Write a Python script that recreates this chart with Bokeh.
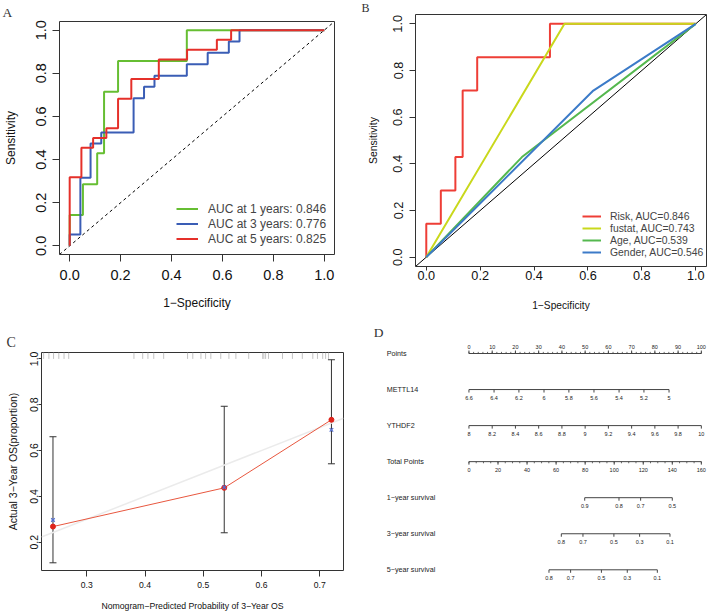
from bokeh.plotting import figure
from bokeh.models import (Range1d, FixedTicker, NumeralTickFormatter, Legend, LegendItem,
                          Label, ColumnDataSource, Whisker, TeeHead)
from bokeh.layouts import column, row
from bokeh.embed import file_html
from bokeh.resources import INLINE
from bokeh.core.properties import value

SANS = "Liberation Sans"
SERIF = "Liberation Serif"

# ---------------- Panel A: time-dependent ROC ----------------
a_fpr_1y = [0.0, 0.0, 0.052, 0.108, 0.135, 0.190, 0.460, 1.0]
a_tpr_1y = [0.0, 0.143, 0.286, 0.429, 0.714, 0.857, 1.0, 1.0]
a_fpr_3y = [0.0, 0.0, 0.042, 0.082, 0.124, 0.251, 0.292, 0.333, 0.460, 0.542, 0.625, 0.667, 1.0]
a_tpr_3y = [0.0, 0.053, 0.316, 0.474, 0.526, 0.684, 0.737, 0.789, 0.842, 0.895, 0.947, 1.0, 1.0]
a_fpr_5y = [0.0, 0.0, 0.046, 0.092, 0.144, 0.190, 0.242, 0.350, 0.461, 0.578, 0.634, 1.0]
a_tpr_5y = [0.0, 0.318, 0.455, 0.500, 0.545, 0.682, 0.773, 0.864, 0.909, 0.955, 1.0, 1.0]
a_labels = ["AUC at 1 years: 0.846", "AUC at 3 years: 0.776", "AUC at 5 years: 0.825"]
a_colors = ["#66BE32", "#3A5DB5", "#E5302A"]

# ---------------- Panel B: ROC of variables ----------------
b_risk_fpr = [0.0, 0.0, 0.054, 0.108, 0.135, 0.189, 0.459, 1.0]
b_risk_tpr = [0.0, 0.143, 0.286, 0.429, 0.714, 0.857, 1.0, 1.0]
b_fustat_fpr = [0.0, 0.513, 1.0]
b_fustat_tpr = [0.0, 1.0, 1.0]
b_age_fpr = [0.0, 0.355, 1.0]
b_age_tpr = [0.0, 0.429, 1.0]
b_gender_fpr = [0.0, 0.620, 1.0]
b_gender_tpr = [0.0, 0.714, 1.0]
b_labels = ["Risk, AUC=0.846", "fustat, AUC=0.743", "Age, AUC=0.539", "Gender, AUC=0.546"]
b_colors = ["#EE3E36", "#C9D81C", "#55B84F", "#3C7BC8"]

roc_ticks = [0.0, 0.2, 0.4, 0.6, 0.8, 1.0]
roc_lim = (-0.04, 1.04)

# ---------------- Panel C: calibration ----------------
c_pred = [0.242, 0.536, 0.720]
c_obs = [0.268, 0.437, 0.734]
c_km = [0.297, 0.440, 0.690]
c_lower = [0.110, 0.241, 0.542]
c_upper = [0.660, 0.793, 0.996]
c_rug = [0.226, 0.235, 0.243, 0.252, 0.261, 0.269, 0.381, 0.396, 0.405, 0.415, 0.432,
         0.473, 0.482, 0.496, 0.504, 0.513, 0.530, 0.544, 0.556, 0.578, 0.602, 0.604,
         0.607, 0.612, 0.636, 0.653, 0.670, 0.688, 0.696, 0.705, 0.710, 0.715]
c_xticks = [0.3, 0.4, 0.5, 0.6, 0.7]
c_yticks = [0.2, 0.4, 0.6, 0.8, 1.0]
c_xlim = (0.2223, 0.7407)
c_ylim = (0.0764, 1.0276)

# ---------------- Panel D: nomogram ----------------
d_rows = ["Points", "METTL14", "YTHDF2", "Total Points",
          "1\u2212year survival", "3\u2212year survival", "5\u2212year survival"]
pts_major = [0, 10, 20, 30, 40, 50, 60, 70, 80, 90, 100]
pts_minor = list(range(0, 101, 2))
mettl14_vals = [6.6, 6.4, 6.2, 6.0, 5.8, 5.6, 5.4, 5.2, 5.0]
mettl14_pts = [0.0, 10.8, 21.5, 32.3, 43.0, 53.8, 64.6, 75.3, 86.1]
ythdf2_vals = [8.0, 8.2, 8.4, 8.6, 8.8, 9.0, 9.2, 9.4, 9.6, 9.8, 10.0]
ythdf2_pts = [0, 10, 20, 30, 40, 50, 60, 70, 80, 90, 100]
total_major = [0, 20, 40, 60, 80, 100, 120, 140, 160]
total_minor = list(range(0, 161, 5))
surv1_vals = [0.9, 0.8, 0.7, 0.5]
surv1_tp = [79.7, 103.3, 118.2, 140.0]
surv3_vals = [0.8, 0.7, 0.5, 0.3, 0.1]
surv3_tp = [63.6, 78.5, 99.8, 117.5, 138.4]
surv5_vals = [0.8, 0.7, 0.5, 0.3, 0.1]
surv5_tp = [55.1, 70.0, 91.2, 109.0, 129.7]
points_max = 100
total_max = 160


def make_fig(w, h, xr, yr, bl, br, bt, bb, xlabel, ylabel):
    p = figure(width=w, height=h, x_range=Range1d(*xr), y_range=Range1d(*yr),
               output_backend="svg", toolbar_location=None,
               min_border_left=bl, min_border_right=br, min_border_top=bt, min_border_bottom=bb,
               x_axis_label=xlabel, y_axis_label=ylabel)
    p.grid.visible = False
    p.outline_line_color = "#333333"
    p.outline_line_width = 1
    p.border_fill_color = "white"
    p.background_fill_color = "white"
    return p


def setup_axis(ax, ticks, fmt, tick_out, lab_standoff, lab_size, title_standoff, title_size,
               vertical=False):
    ax.ticker = FixedTicker(ticks=ticks)
    ax.formatter = NumeralTickFormatter(format=fmt)
    ax.axis_line_color = None
    ax.major_tick_in = 0
    ax.major_tick_out = tick_out
    ax.major_tick_line_color = "#333333"
    ax.minor_tick_line_color = None
    ax.major_label_standoff = lab_standoff
    ax.major_label_text_font = SANS
    ax.major_label_text_font_size = lab_size
    ax.major_label_text_color = "#111111"
    ax.axis_label_standoff = title_standoff
    ax.axis_label_text_font = SANS
    ax.axis_label_text_font_size = title_size
    ax.axis_label_text_font_style = "normal"
    ax.axis_label_text_color = "#111111"
    if vertical:
        ax.major_label_orientation = "vertical"


def letter_title(p, t, size, offset, standoff):
    p.title.text = t
    p.title.align = "left"
    p.title.offset = offset
    p.title.standoff = standoff
    p.title.text_font = SERIF
    p.title.text_font_size = size
    p.title.text_font_style = "normal"
    p.title.text_color = "#333333"


# ======================= Panel A =======================
pA = make_fig(354, 314, roc_lim, roc_lim, 58, 20, 21, 60, "1\u2212Specificity", "Sensitivity")
setup_axis(pA.xaxis[0], roc_ticks, "0.0", 7, 8, "14.5px", 13, "12px")
setup_axis(pA.yaxis[0], roc_ticks, "0.0", 7, 6, "14.5px", 16, "12px", vertical=True)
pA.line(list(roc_lim), list(roc_lim), line_color="black", line_width=1, line_dash="3 3")
rA = []
for fx, ty, c in zip([a_fpr_1y, a_fpr_3y, a_fpr_5y], [a_tpr_1y, a_tpr_3y, a_tpr_5y], a_colors):
    rA.append(pA.step(fx, ty, mode="after", line_color=c, line_width=2))
legA = Legend(items=[LegendItem(label=l, renderers=[r]) for l, r in zip(a_labels, rA)],
              location=(117, 8), label_text_font=SANS, label_text_font_size="12px",
              glyph_width=22, glyph_height=15, label_height=15, label_standoff=10,
              spacing=0, padding=0, margin=0, border_line_alpha=0, background_fill_alpha=0)
pA.add_layout(legA)
letter_title(pA, "A", "13.5px", -57, 4)

# ======================= Panel B =======================
pB = make_fig(354, 316, roc_lim, roc_lim, 61, 2, 11, 48, "1\u2212Specificity", "Sensitivity")
pB.margin = (-2, 0, 0, 0)
setup_axis(pB.xaxis[0], roc_ticks, "0.0", 4, 0, "12.7px", 17, "10.2px")
setup_axis(pB.yaxis[0], roc_ticks, "0.0", 6, 7, "12.7px", 12, "10.4px", vertical=True)
pB.line(list(roc_lim), list(roc_lim), line_color="black", line_width=1)
rB = []
for fx, ty, c in zip([b_risk_fpr, b_fustat_fpr, b_age_fpr, b_gender_fpr],
                     [b_risk_tpr, b_fustat_tpr, b_age_tpr, b_gender_tpr], b_colors):
    if len(fx) > 3:
        rB.append(pB.step(fx, ty, mode="after", line_color=c, line_width=2))
    else:
        rB.append(pB.line(fx, ty, line_color=c, line_width=2))
legB = Legend(items=[LegendItem(label=l, renderers=[r]) for l, r in zip(b_labels, rB)],
              location=(167, 8), label_text_font=SANS, label_text_font_size="10.4px",
              glyph_width=19, glyph_height=12, label_height=12, label_standoff=9,
              spacing=0, padding=0, margin=0, border_line_alpha=0, background_fill_alpha=0)
pB.add_layout(legB)
letter_title(pB, "B", "12px", -54, 0)

# ======================= Panel C =======================
pC = make_fig(354, 300, c_xlim, c_ylim, 41, 11, 38, 44,
              "Nomogram\u2212Predicted Probability of 3\u2212Year OS",
              "Actual 3\u2212Year OS(proportion)")
setup_axis(pC.xaxis[0], c_xticks, "0.0", 6, 5, "8.6px", 10, "8.7px")
setup_axis(pC.yaxis[0], c_yticks, "0.0", 3, 0, "10.5px", 9, "10.5px", vertical=True)
pC.line(list(c_xlim), list(c_xlim), line_color="#EBEBEB", line_width=1.5)
rug_top = c_ylim[1]
pC.segment(x0=c_rug, y0=[rug_top] * len(c_rug), x1=c_rug, y1=[rug_top - 0.028] * len(c_rug),
           line_color="#C4C4C4", line_width=1)
srcC = ColumnDataSource(dict(base=c_pred, lower=c_lower, upper=c_upper))
pC.add_layout(Whisker(source=srcC, base="base", lower="lower", upper="upper", dimension="height",
                      line_color="#333333", line_width=1,
                      upper_head=TeeHead(size=7, line_color="#333333", line_width=1),
                      lower_head=TeeHead(size=7, line_color="#333333", line_width=1)))
pC.line(c_pred, c_obs, line_color="#E8573F", line_width=1)
pC.scatter(c_pred, c_obs, marker="circle", size=5, fill_color="#E0251C", line_color="#E0251C")
pC.scatter(c_pred, c_km, marker="x", size=5, line_color="#5470D0", line_width=1.3)
letter_title(pC, "C", "14px", -35, 6)

# ======================= Panel D =======================
xr_pts = (-49.25, 103.08)
pD = figure(width=354, height=300, x_range=Range1d(*xr_pts), y_range=Range1d(-7.240, 1.082),
            x_axis_type=None, y_axis_type=None, output_backend="svg", toolbar_location=None,
            min_border_left=0, min_border_right=0, min_border_top=0, min_border_bottom=0)
pD.grid.visible = False
pD.outline_line_color = None
pD.extra_x_ranges = {"total": Range1d(xr_pts[0] * total_max / points_max,
                                      xr_pts[1] * total_max / points_max)}

LINE_C = "#444444"
TXT_C = "#222222"
tick_major = 0.083
tick_minor = 0.045


def nomo_row(row_i, xs, labels, rng="default", above=False, minor=None):
    y = -row_i
    sgn = 1 if above else -1
    pD.segment(x0=[min(xs)], y0=[y], x1=[max(xs)], y1=[y], line_color=LINE_C, line_width=1,
               x_range_name=rng)
    pD.segment(x0=xs, y0=[y] * len(xs), x1=xs, y1=[y + sgn * tick_major] * len(xs),
               line_color=LINE_C, line_width=1, x_range_name=rng)
    if minor is not None:
        pD.segment(x0=minor, y0=[y] * len(minor), x1=minor,
                   y1=[y + sgn * tick_minor] * len(minor),
                   line_color=LINE_C, line_width=0.8, x_range_name=rng)
    pD.text(x=xs, y=[y] * len(xs), text=labels, text_align="center", text_baseline="middle",
            y_offset=-7 if above else 8, text_font=value(SANS),
            text_font_size=value("5.5px"), text_color=TXT_C, x_range_name=rng)


pD.text(x=[-35.4] * len(d_rows), y=[-i for i in range(len(d_rows))], text=d_rows,
        text_align="left", text_baseline="middle", text_font=value(SANS),
        text_font_size=value("7.2px"), text_color=TXT_C)

fmt = lambda vals: [f"{v:g}" for v in vals]
nomo_row(0, pts_major, fmt(pts_major), above=True, minor=pts_minor)
nomo_row(1, mettl14_pts, fmt(mettl14_vals))
nomo_row(2, ythdf2_pts, fmt(ythdf2_vals))
nomo_row(3, total_major, fmt(total_major), rng="total", minor=total_minor)
nomo_row(4, surv1_tp, fmt(surv1_vals), rng="total")
nomo_row(5, surv3_tp, fmt(surv3_vals), rng="total")
nomo_row(6, surv5_tp, fmt(surv5_vals), rng="total")
pD.add_layout(Label(x=-38.9, y=0.59, text="D", text_font=SERIF, text_font_size="13.5px",
                    text_align="center", text_baseline="middle", text_color="#333333"))

layout = column(row(column(pA), column(pB)), row(column(pC), column(pD)))
open("out.html", "w").write(file_html(layout, INLINE))
